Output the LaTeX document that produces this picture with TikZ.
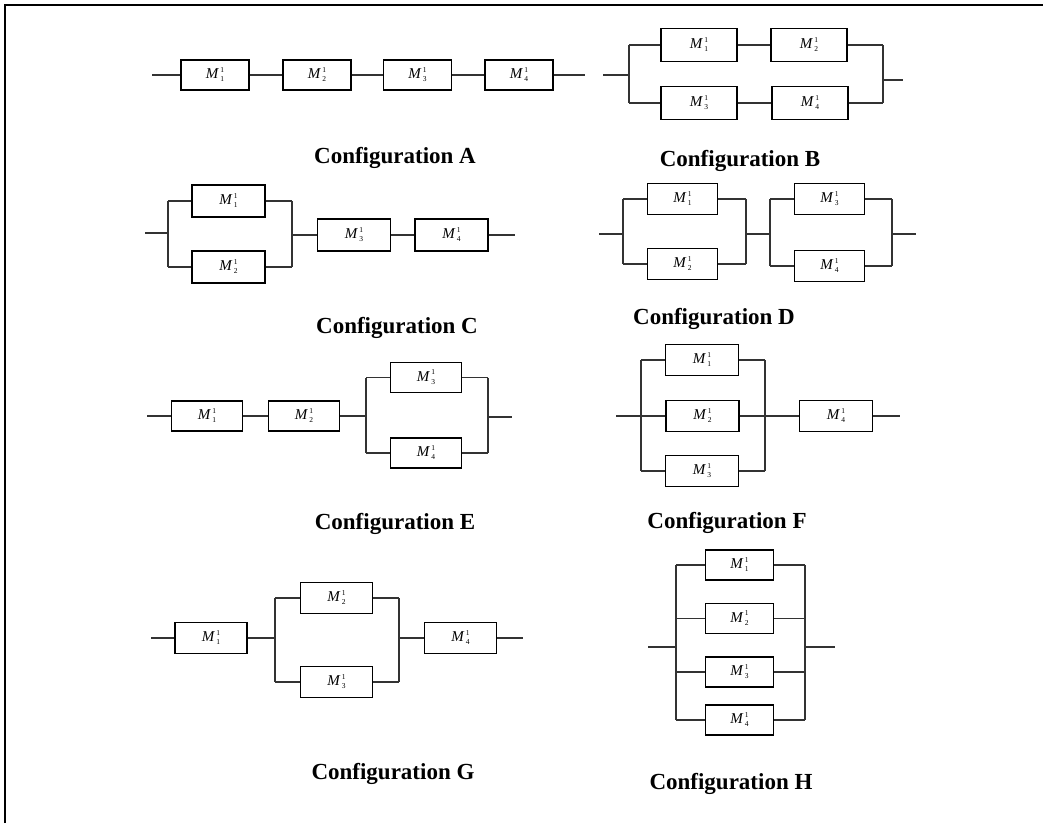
\documentclass[tikz,border=0pt]{standalone}
\usepackage{fontspec}
\setmainfont{Liberation Serif}
% italic M with a stacked superscript 1 and module subscript
\newcommand\mlab[1]{\textit{M}\kern1.5pt\raisebox{-3pt}{\fontsize{7.5}{9.5}\selectfont
  \begin{tabular}[b]{@{}l@{}}1\\#1\end{tabular}}}
\begin{document}
\begin{tikzpicture}[x=1pt,y=-1pt,
  mbox/.style 2 args={draw=black, line width=1.4pt, minimum width=#1pt, minimum height=#2pt,
    inner sep=0pt, font=\fontsize{15}{15}\selectfont},
  wire/.style={draw=black!80, line width=1.1pt},
  caption/.style={anchor=base, font=\fontsize{23}{27}\selectfont\bfseries}]
\useasboundingbox (0,0) rectangle (1043,823);
% outer frame
\draw[line width=2pt] (4.5,823) -- (4.5,5) -- (1043,5);

% ---------- A: four modules in series ----------
\begin{scope}[every node/.append style={mbox={68}{30}}]
\node (A1) at (215,75) {\mlab{1}};
\node (A2) at (317,75) {\mlab{2}};
\node (A3) at (417.5,75) {\mlab{3}};
\node (A4) at (519,75) {\mlab{4}};
\end{scope}
\coordinate (a0) at (152,75);
\coordinate (a5) at (585,75);
\draw[wire] (a0) -- (A1) (A1) -- (A2) (A2) -- (A3) (A3) -- (A4) (A4) -- (a5);
\node[caption] (capA) at (395,163) {Configuration A};

% ---------- B: two series pairs in parallel ----------
\begin{scope}[every node/.append style={mbox={76}{33}}]
\node (B1) at (699,45) {\mlab{1}};
\node (B2) at (809,45) {\mlab{2}};
\node (B3) at (699,103) {\mlab{3}};
\node (B4) at (810,103) {\mlab{4}};
\end{scope}
\coordinate (b0) at (603,75);
\coordinate (bl) at (629,75);
\coordinate (blt) at (629,45);
\coordinate (blb) at (629,103);
\coordinate (brt) at (883,45);
\coordinate (brb) at (883,103);
\coordinate (br) at (883,80);
\coordinate (b5) at (903,80);
\draw[wire] (b0) -- (bl) (blt) -- (blb) (blt) -- (B1) (B1) -- (B2) (B2) -- (brt)
  (blb) -- (B3) (B3) -- (B4) (B4) -- (brb) (brt) -- (brb) (br) -- (b5);
\node[caption] (capB) at (740,166) {Configuration B};

% ---------- C: parallel pair, then two in series ----------
\begin{scope}[every node/.append style={mbox={73}{32}}]
\node (C1) at (228.5,201) {\mlab{1}};
\node (C2) at (228.5,267) {\mlab{2}};
\node (C3) at (354,235) {\mlab{3}};
\node (C4) at (451.5,235) {\mlab{4}};
\end{scope}
\coordinate (c0) at (145,233);
\coordinate (cl) at (168,233);
\coordinate (clt) at (168,201);
\coordinate (clb) at (168,267);
\coordinate (crt) at (292,201);
\coordinate (crb) at (292,267);
\coordinate (cr) at (292,235);
\coordinate (c5) at (515,235);
\draw[wire] (c0) -- (cl) (clt) -- (clb) (clt) -- (C1) (clb) -- (C2) (C1) -- (crt) (C2) -- (crb)
  (crt) -- (crb) (cr) -- (C3) (C3) -- (C4) (C4) -- (c5);
\node[caption] (capC) at (397,333) {Configuration C};

% ---------- D: two parallel pairs in series ----------
\begin{scope}[every node/.append style={mbox={70}{31}}]
\node (D1) at (682.5,199) {\mlab{1}};
\node (D2) at (682.5,264) {\mlab{2}};
\node (D3) at (829.5,199) {\mlab{3}};
\node (D4) at (829.5,266) {\mlab{4}};
\end{scope}
\coordinate (d0) at (599,234);
\coordinate (dl) at (623,234);
\coordinate (dlt) at (623,199);
\coordinate (dlb) at (623,264);
\coordinate (dmt) at (746,199);
\coordinate (dmb) at (746,264);
\coordinate (dm) at (746,234);
\coordinate (dn) at (770,234);
\coordinate (dnt) at (770,199);
\coordinate (dnb) at (770,266);
\coordinate (drt) at (892,199);
\coordinate (drb) at (892,266);
\coordinate (dr) at (892,234);
\coordinate (d5) at (916,234);
\draw[wire] (d0) -- (dl) (dlt) -- (dlb) (dlt) -- (D1) (dlb) -- (D2) (D1) -- (dmt) (D2) -- (dmb)
  (dmt) -- (dmb) (dm) -- (dn) (dnt) -- (dnb) (dnt) -- (D3) (dnb) -- (D4)
  (D3) -- (drt) (D4) -- (drb) (drt) -- (drb) (dr) -- (d5);
\node[caption] (capD) at (714,324) {Configuration D};

% ---------- E: two in series, then a parallel pair ----------
\begin{scope}[every node/.append style={mbox={71}{30}}]
\node (E1) at (207,416) {\mlab{1}};
\node (E2) at (304,416) {\mlab{2}};
\node (E3) at (426,377.5) {\mlab{3}};
\node (E4) at (426,453) {\mlab{4}};
\end{scope}
\coordinate (e0) at (147,416);
\coordinate (el) at (366,416);
\coordinate (elt) at (366,377.5);
\coordinate (elb) at (366,453);
\coordinate (ert) at (488,377.5);
\coordinate (erb) at (488,453);
\coordinate (er) at (488,417);
\coordinate (e5) at (512,417);
\draw[wire] (e0) -- (E1) (E1) -- (E2) (E2) -- (el) (elt) -- (elb) (elt) -- (E3) (elb) -- (E4)
  (E3) -- (ert) (E4) -- (erb) (ert) -- (erb) (er) -- (e5);
\node[caption] (capE) at (395,529) {Configuration E};

% ---------- F: three in parallel, then one in series ----------
\begin{scope}[every node/.append style={mbox={73}{31}}]
\node (F1) at (702,360) {\mlab{1}};
\node (F2) at (702.5,416) {\mlab{2}};
\node (F3) at (702,471) {\mlab{3}};
\node (F4) at (836,416) {\mlab{4}};
\end{scope}
\coordinate (f0) at (616,416);
\coordinate (fl) at (641,416);
\coordinate (flt) at (641,360);
\coordinate (flb) at (641,471);
\coordinate (frt) at (765,360);
\coordinate (frb) at (765,471);
\coordinate (f5) at (900,416);
\draw[wire] (f0) -- (F2) (flt) -- (flb) (flt) -- (F1) (flb) -- (F3)
  (F1) -- (frt) (F3) -- (frb) (frt) -- (frb) (F2) -- (F4) (F4) -- (f5);
\node[caption] (capF) at (727,528) {Configuration F};

% ---------- G: one, a parallel pair, one ----------
\begin{scope}[every node/.append style={mbox={72}{31}}]
\node (G1) at (211,638) {\mlab{1}};
\node (G2) at (336.5,598) {\mlab{2}};
\node (G3) at (336.5,682) {\mlab{3}};
\node (G4) at (460.5,638) {\mlab{4}};
\end{scope}
\coordinate (g0) at (151,638);
\coordinate (gl) at (275,638);
\coordinate (glt) at (275,598);
\coordinate (glb) at (275,682);
\coordinate (grt) at (399,598);
\coordinate (grb) at (399,682);
\coordinate (gr) at (399,638);
\coordinate (g5) at (523,638);
\draw[wire] (g0) -- (G1) (G1) -- (gl) (glt) -- (glb) (glt) -- (G2) (glb) -- (G3)
  (G2) -- (grt) (G3) -- (grb) (grt) -- (grb) (gr) -- (G4) (G4) -- (g5);
\node[caption] (capG) at (393,779) {Configuration G};

% ---------- H: four in parallel ----------
\begin{scope}[every node/.append style={mbox={68}{30}}]
\node (H1) at (739.5,565) {\mlab{1}};
\node (H2) at (739.5,618.5) {\mlab{2}};
\node (H3) at (739.5,672) {\mlab{3}};
\node (H4) at (739.5,720) {\mlab{4}};
\end{scope}
\coordinate (h0) at (648,647);
\coordinate (hl) at (676,647);
\coordinate (hlt) at (676,565);
\coordinate (hl2) at (676,618.5);
\coordinate (hl3) at (676,672);
\coordinate (hlb) at (676,720);
\coordinate (hrt) at (805,565);
\coordinate (hr2) at (805,618.5);
\coordinate (hr3) at (805,672);
\coordinate (hrb) at (805,720);
\coordinate (hr) at (805,647);
\coordinate (h5) at (835,647);
\draw[wire] (h0) -- (hl) (hlt) -- (hlb) (hrt) -- (hrb)
  (hlt) -- (H1) (hl2) -- (H2) (hl3) -- (H3) (hlb) -- (H4)
  (H1) -- (hrt) (H2) -- (hr2) (H3) -- (hr3) (H4) -- (hrb) (hr) -- (h5);
\node[caption] (capH) at (731,789) {Configuration H};
\end{tikzpicture}
\end{document}
